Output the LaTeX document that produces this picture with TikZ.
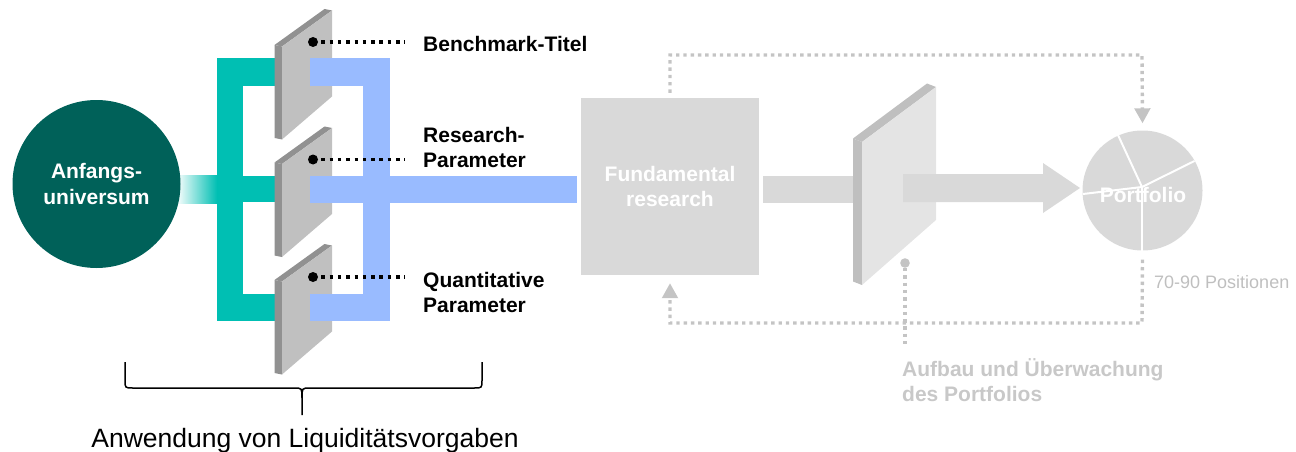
\documentclass[tikz,border=0pt]{standalone}
\usepackage{fontspec}
\setmainfont{Liberation Sans}
\usetikzlibrary{arrows.meta,calc}

\definecolor{deepteal}{RGB}{0,97,89}
\definecolor{brightteal}{RGB}{0,191,179}
\definecolor{skyblue}{RGB}{153,187,255}
\definecolor{panelface}{RGB}{192,192,192}
\definecolor{paneledge}{RGB}{145,145,145}
\definecolor{fadedgray}{RGB}{217,217,217}
\definecolor{faintface}{RGB}{228,228,228}
\definecolor{faintedge}{RGB}{191,191,191}
\definecolor{linegray}{RGB}{196,196,196}
\definecolor{textgray}{RGB}{200,200,200}

\tikzset{
  boldlabel/.style={font=\fontsize{21}{25}\selectfont\bfseries, inner sep=0pt, align=left},
  blackdots/.style={line width=3.5pt, dash pattern=on 3.5pt off 4.8pt, black},
  graydots/.style={line width=3.4pt, dash pattern=on 3.4pt off 3.9pt, linegray},
  graytip/.style={-{Triangle[length=15pt,width=15.5pt]}},
  % small slanted filter plate, origin = top left corner of its front face
  filterpanel/.pic={
    \fill[paneledge] (0,0) -- (50,-36) -- (42.5,-37.5) -- (-7.5,-1.5) -- cycle;
    \fill[paneledge] (0,0) -- (0,93) -- (-7.5,91.5) -- (-7.5,-1.5) -- cycle;
    \fill[panelface] (0,0) -- (50,-36) -- (50,50) -- (0,93) -- cycle;
  },
  % large faded plate in front of the portfolio
  gatepanel/.pic={
    \fill[faintedge] (0,0) -- (74,-55) -- (65,-58.5) -- (-9,-3.5) -- cycle;
    \fill[faintedge] (0,0) -- (0,143) -- (-9,139.5) -- (-9,-3.5) -- cycle;
    \fill[faintface] (0,0) -- (74,-55) -- (74,78) -- (0,143) -- cycle;
  },
}

\begin{document}
\begin{tikzpicture}[x=1pt,y=-1pt]
\useasboundingbox (0,0) rectangle (1296,452);

% fading link out of the starting universe
\shade[left color=white, right color=brightteal] (176,175) rectangle (217,203);
\node[circle, fill=deepteal, minimum size=168pt, inner sep=0pt, text=white,
      font=\fontsize{21}{26}\selectfont\bfseries, align=center] (start) at (96.5,184) {Anfangs-\\universum};

% teal distribution bracket
\fill[brightteal] (217,58) rectangle (243,321);
\fill[brightteal] (217,58) rectangle (278,86);
\fill[brightteal] (217,176) rectangle (278,202);
\fill[brightteal] (217,294) rectangle (278,321);

% three filter plates
\pic at (282,46.5) {filterpanel};
\pic at (282,164) {filterpanel};
\pic at (282,281.5) {filterpanel};

% blue collecting bracket
\fill[skyblue] (363,58) rectangle (390,321);
\fill[skyblue] (310,58) rectangle (390,86);
\fill[skyblue] (310,176) rectangle (577,203);
\fill[skyblue] (310,294) rectangle (390,321);

% filter criteria
\fill[black] (313,42) circle (5) coordinate (d1);
\fill[black] (313,159.5) circle (5) coordinate (d2);
\fill[black] (313,277) circle (5) coordinate (d3);
\coordinate (e1) at (405,42);
\coordinate (e2) at (405,159.5);
\coordinate (e3) at (405,277);
\draw[blackdots] (d1) -- (e1);
\draw[blackdots] (d2) -- (e2);
\draw[blackdots] (d3) -- (e3);

\node[boldlabel, anchor=base west] (l1) at (423,52) {Benchmark-Titel};
\node[boldlabel, anchor=north west] (l2) at (423,127) {Research-\\Parameter};
\node[boldlabel, anchor=north west] (l3) at (423,272) {Quantitative\\Parameter};

% brace under the filter stage
\draw[line width=1.5pt, black] (125,362) -- (125,380) .. controls (125,388) .. (133,388)
  -- (294,388) .. controls (302,388) .. (302,398) -- (302,415);
\draw[line width=1.5pt, black] (482,362) -- (482,380) .. controls (482,388) .. (474,388)
  -- (310,388) .. controls (302,388) .. (302,398);
\node[font=\fontsize{26.5}{30}\selectfont, anchor=base, inner sep=0pt] (brace) at (305,447)
  {Anwendung von Liquiditätsvorgaben};

% fundamental research stage
\node[fill=fadedgray, minimum width=178pt, minimum height=177pt, inner sep=0pt,
      text=white, font=\fontsize{21}{25}\selectfont\bfseries, align=center] (fund) at (670,186.5)
  {Fundamental\\research};
\fill[fadedgray] (763,176) rectangle (853,203);
\pic at (862,142) {gatepanel};
\fill[fadedgray] (903,174) -- (1043,174) -- (1043,163) -- (1080,188) -- (1043,213)
  -- (1043,202) -- (903,202) -- cycle;

% portfolio pie
\node[circle, fill=fadedgray, minimum size=120pt, inner sep=0pt] (pf) at (1142.5,190.5) {};
\coordinate (pc) at (1142,187);
\draw[white, line width=2pt] (pc) -- (1118,135);
\draw[white, line width=2pt] (pc) -- (1194.5,161);
\draw[white, line width=2pt] (pc) -- (1142,250.5);
\draw[white, line width=2pt] (pc) -- (1083,194);
\node[text=white, font=\fontsize{21}{25}\selectfont\bfseries, inner sep=0pt] (pftext) at (1143,195) {Portfolio};

% feedback loops
\draw[graydots, graytip] ([yshift=5pt]fund.north) |- (1142,55) -- ([yshift=7pt]pf.north);
\draw[graydots, graytip] ([yshift=-9pt]pf.south) -- (1142,323) -| ([yshift=-8pt]fund.south);
\fill[linegray] (905,263) circle (4.8) coordinate (gd);
\coordinate (ge) at (905,346);
\draw[graydots] ([yshift=-5pt]gd) -- (ge);

\node[font=\fontsize{18}{22}\selectfont, text=faintedge, anchor=base west, inner sep=0pt] (pos) at (1154,288) {70-90 Positionen};
\node[boldlabel, text=textgray, anchor=north west] (mon) at (902,358) {Aufbau und Überwachung\\des Portfolios};
\end{tikzpicture}
\end{document}
